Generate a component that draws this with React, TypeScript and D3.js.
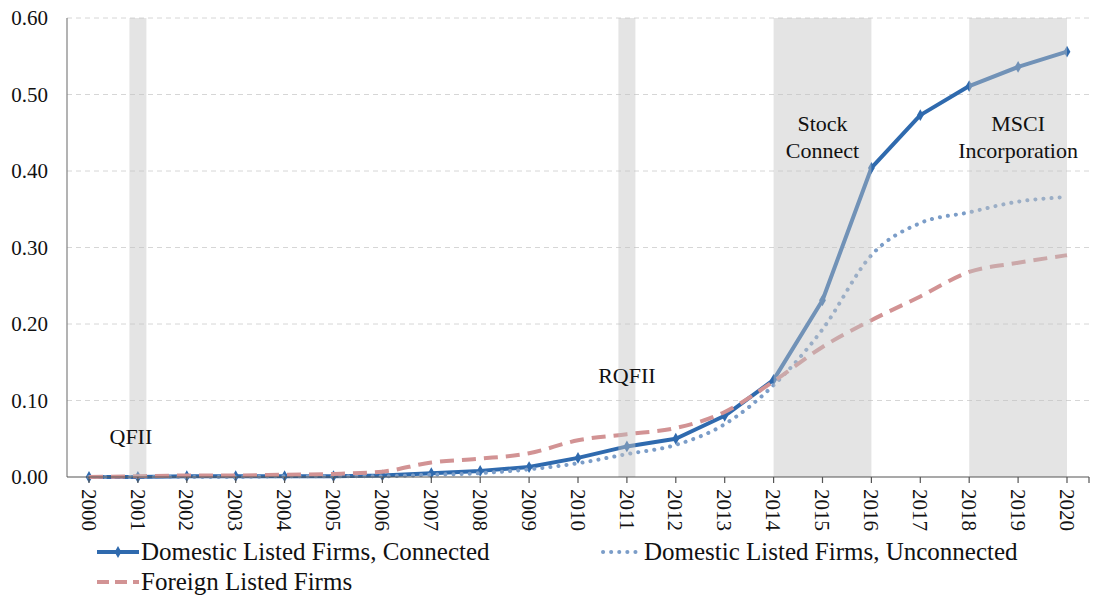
import { curveMonotoneX, curveLinear, line, scaleLinear, scalePoint, symbol, symbolDiamond } from "d3";

const years = [
  "2000", "2001", "2002", "2003", "2004", "2005", "2006", "2007", "2008", "2009", "2010",
  "2011", "2012", "2013", "2014", "2015", "2016", "2017", "2018", "2019", "2020"
];
const connected = [
  0, 0, 0.001, 0.001, 0.001, 0.001, 0.002, 0.005, 0.008, 0.013, 0.025,
  0.04, 0.05, 0.08, 0.127, 0.231, 0.404, 0.473, 0.511, 0.536, 0.556
];
const unconnected = [
  0, 0, 0, 0, 0.001, 0.001, 0.001, 0.003, 0.005, 0.01, 0.018,
  0.03, 0.042, 0.069, 0.12, 0.193, 0.29, 0.332, 0.346, 0.36, 0.366
];
const foreign = [
  0, 0.001, 0.002, 0.002, 0.003, 0.004, 0.007, 0.019, 0.024, 0.031, 0.048,
  0.056, 0.064, 0.085, 0.125, 0.17, 0.205, 0.236, 0.268, 0.28, 0.29
];
const yTicks = [0, 0.1, 0.2, 0.3, 0.4, 0.5, 0.6];
// shaded policy windows: [from, to, label lines, label anchor year]
const events: [string, string, string[], string][] = [
  ["2001", "2001", ["QFII"], "2001"],
  ["2011", "2011", ["RQFII"], "2011"],
  ["2014", "2016", ["Stock", "Connect"], "2015"],
  ["2018", "2020", ["MSCI", "Incorporation"], "2019"]
];
const legendLabels = [
  "Domestic Listed Firms, Connected",
  "Domestic Listed Firms, Unconnected",
  "Foreign Listed Firms"
];

const width = 1099;
const height = 605;
const left = 67;
const right = 1089;
const top = 18;
const bottom = 477;
const serif = { fontFamily: "Liberation Serif" };

const blue = "#2f6aae";
const lightBlue = "#7b9dc8";
const rose = "#d29394";

export default function App(): React.JSX.Element {
  const x = scalePoint<string>().domain(years).range([left, right]).padding(0.45);
  const y = scaleLinear().domain([0, 0.6]).range([bottom, top]);
  const px = (yr: string) => x(yr) ?? left;

  const straight = line<number>()
    .curve(curveLinear)
    .x((_, i) => px(years[i]))
    .y((d) => y(d));
  const smooth = line<number>()
    .curve(curveMonotoneX)
    .x((_, i) => px(years[i]))
    .y((d) => y(d));
  const diamond = symbol().type(symbolDiamond).size(40)() ?? "";

  return (
    <svg width={width} height={height} style={{ position: "absolute", left: 0, top: 0, background: "#fff" }}>
      {yTicks.slice(1).map((t) => (
        <line
          key={`g${t}`}
          x1={left}
          x2={right}
          y1={y(t)}
          y2={y(t)}
          stroke="#d6d6d6"
          strokeDasharray="5 4"
          strokeWidth={1}
        />
      ))}
      {yTicks.map((t) => (
        <text key={`y${t}`} x={48} y={y(t)} dy="0.35em" textAnchor="end" fontSize={21} fill="#111" style={serif}>
          {t.toFixed(2)}
        </text>
      ))}

      <path d={straight(connected) ?? ""} fill="none" stroke={blue} strokeWidth={4} strokeLinejoin="round" />
      {connected.map((v, i) => (
        <path key={`m${i}`} d={diamond} transform={`translate(${px(years[i])},${y(v)})`} fill={blue} />
      ))}
      <path
        d={smooth(unconnected) ?? ""}
        fill="none"
        stroke={lightBlue}
        strokeWidth={4}
        strokeLinecap="round"
        strokeDasharray="0.1 8"
      />
      <path d={smooth(foreign) ?? ""} fill="none" stroke={rose} strokeWidth={4} strokeDasharray="14 8" />

      {events.map(([from, to], i) => {
        const half = 8.5;
        const x0 = from === to ? px(from) - half : px(from);
        const x1 = from === to ? px(to) + half : px(to);
        return (
          <rect key={`b${i}`} x={x0} y={top} width={x1 - x0} height={bottom - top} fill="#c4c4c4" opacity={0.45} />
        );
      })}
      {events.map(([, , lines, at], i) => {
        const cx = px(at) - (lines[0] === "QFII" ? 7 : 0);
        const baseY = lines.length === 1 ? (lines[0] === "QFII" ? 444 : 383) : 131;
        return (
          <text key={`a${i}`} x={cx} y={baseY} textAnchor="middle" fontSize={22} fill="#111" style={serif}>
            {lines.map((l, j) => (
              <tspan key={l} x={cx} dy={j === 0 ? 0 : 27}>
                {l}
              </tspan>
            ))}
          </text>
        );
      })}

      <line x1={left} x2={left} y1={top} y2={bottom} stroke="#808080" strokeWidth={1.2} />
      <line x1={left} x2={right} y1={bottom} y2={bottom} stroke="#555" strokeWidth={1.2} />
      {[...years.map(px), right].map((tx, i) => (
        <line key={`t${i}`} x1={tx} x2={tx} y1={bottom} y2={bottom + 6} stroke="#555" strokeWidth={1.2} />
      ))}
      {years.map((yr) => (
        <text
          key={yr}
          transform={`translate(${px(yr)},${bottom + 12}) rotate(90)`}
          dy="0.35em"
          fontSize={21}
          fill="#111"
          style={serif}
        >
          {yr}
        </text>
      ))}

      <g>
        <line x1={97} x2={139} y1={552} y2={552} stroke={blue} strokeWidth={4} />
        <path d={diamond} transform="translate(118,552)" fill={blue} />
        <text x={141} y={552} dy="0.33em" fontSize={25} fill="#111" style={serif}>
          {legendLabels[0]}
        </text>
        <line
          x1={603}
          x2={641}
          y1={552}
          y2={552}
          stroke={lightBlue}
          strokeWidth={4}
          strokeLinecap="round"
          strokeDasharray="0.1 8"
        />
        <text x={644} y={552} dy="0.33em" fontSize={25} fill="#111" style={serif}>
          {legendLabels[1]}
        </text>
        <line x1={97} x2={139} y1={582} y2={582} stroke={rose} strokeWidth={4} strokeDasharray="12 6" />
        <text x={141} y={582} dy="0.33em" fontSize={25} fill="#111" style={serif}>
          {legendLabels[2]}
        </text>
      </g>
    </svg>
  );
}
